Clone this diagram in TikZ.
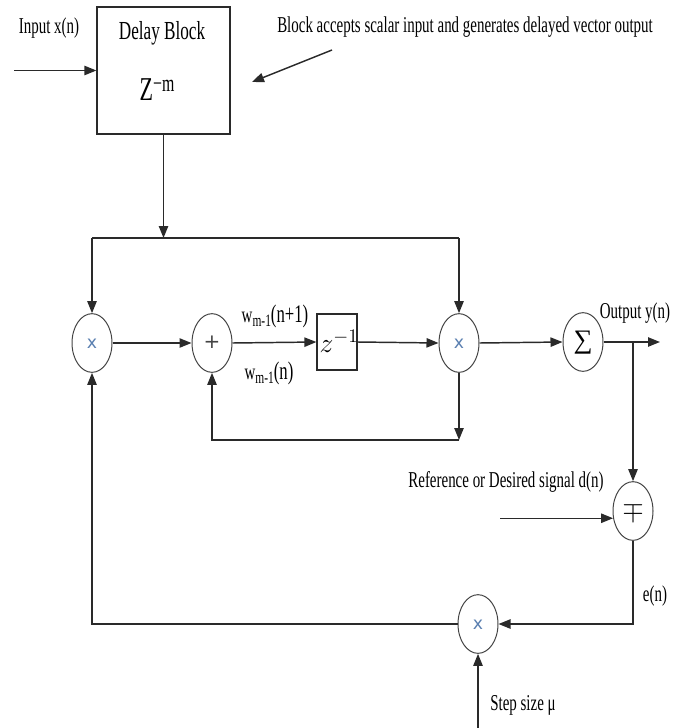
\documentclass[tikz,border=0pt]{standalone}
\usepackage{fontspec}
\setmainfont[FakeStretch=0.66]{Liberation Serif}
\newfontfamily\symfont{DejaVu Sans}
\newfontfamily\serifsym{Liberation Serif}
\usetikzlibrary{arrows.meta,shapes.geometric}
\definecolor{linec}{HTML}{2A2A2A}
\definecolor{circc}{HTML}{444444}
\definecolor{xblue}{HTML}{5A7FB0}
\tikzset{
  x=0.75pt, y=-0.75pt,
  wire/.style={draw=linec, line width=1.1pt},
  arr/.style={wire, -{Triangle[length=9pt,width=7pt]}},
  opnode/.style={ellipse, draw=circc, line width=0.75pt, minimum width=30pt, minimum height=44pt, inner sep=0pt},
  boxnode/.style={rectangle, draw=linec, line width=0.9pt, inner sep=0pt},
  lbl/.style={inner sep=0pt, font=\fontsize{17}{20}\selectfont},
}
\begin{document}
\begin{tikzpicture}
\useasboundingbox (0,0) rectangle (686,728);
% blocks
\node[boxnode, minimum width=99.75pt, minimum height=95.25pt] (delay) at (163.5,70.5) {};
\node[lbl, font=\fontsize{19.5}{22}\selectfont] (delaytxt) at (162,33) {Delay Block};
\node[lbl, font=\fontsize{25}{28}\selectfont] (zm) at (157,90) {Z\raisebox{7pt}{\fontsize{18}{20}\selectfont −m}};
\node[boxnode, minimum width=30pt, minimum height=42pt] (zbox) at (337,342) {};
\node[inner sep=0pt, font=\fontsize{20}{22}\selectfont] (zinv) at (339,341) {$z^{-1}$};
\node[opnode] (m1) at (92,343) {};
\node[inner sep=0pt, text=xblue, font=\symfont\fontsize{13}{14}\selectfont] (m1s) at (92,344) {x};
\node[opnode] (add) at (212,343) {};
\node[inner sep=0pt, text=circc, font=\symfont\fontsize{15}{16}\selectfont] (adds) at (212,342) {+};
\node[opnode] (m2) at (459,343) {};
\node[inner sep=0pt, text=xblue, font=\symfont\fontsize{13}{14}\selectfont] (m2s) at (459,344) {x};
\node[opnode] (sum) at (583,342) {};
\node[inner sep=0pt, font=\serifsym\fontsize{20}{22}\selectfont] (sums) at (583,343) {∑};
\node[opnode] (sub) at (633,511) {};
\node[inner sep=0pt, font=\fontsize{22}{24}\selectfont] (subs) at (633,512) {$\mp$};
\node[opnode] (m3) at (478,624) {};
\node[inner sep=0pt, text=xblue, font=\symfont\fontsize{13}{14}\selectfont] (m3s) at (478,625) {x};
% labels
\node[lbl] (inlbl) at (49,28) {Input x(n)};
\node[lbl, anchor=west] (annot) at (277,27) {Block accepts scalar input and generates delayed vector output};
\node[lbl] (wnp) at (275,316) {w\raisebox{-3pt}{\fontsize{13}{14}\selectfont m-1}\fontsize{19}{22}\selectfont(n+1)};
\node[lbl] (wn) at (269,373) {w\raisebox{-3pt}{\fontsize{13}{14}\selectfont m-1}\fontsize{19}{22}\selectfont(n)};
\node[lbl] (outlbl) at (635,313) {Output y(n)};
\node[lbl] (reflbl) at (506,482) {Reference or Desired signal d(n)};
\node[lbl] (enlbl) at (655,596) {e(n)};
\node[lbl] (steplbl) at (523,705) {Step size μ};
% coordinates
\coordinate (inS) at (14,70.5);
\coordinate (annS) at (332,50);
\coordinate (annE) at (252,82);
\coordinate (topjoin) at (163.5,238);
\coordinate (tl) at (92,238);
\coordinate (tr) at (459,238);
\coordinate (outE) at (660,342);
\coordinate (branch) at (633,342);
\coordinate (refS) at (500,519);
\coordinate (fb) at (459,440);
\coordinate (stepS) at (478,728);
% connectors
\draw[arr] (inS) -- (delay.west);
\draw[arr] (annS) -- (annE);
\draw[arr] (delay.south) -- (topjoin);
\draw[wire] (tl) -- (tr);
\draw[arr] (tl) -- (m1.north);
\draw[arr] (tr) -- (m2.north);
\draw[arr] (m1.east) -- (add.west);
\draw[arr] (add.east) -- (zbox.west);
\draw[arr] (zbox.east) -- (m2.west);
\draw[arr] (m2.east) -- (sum.west);
\draw[arr] (sum.east) -- (outE);
\draw[arr] (branch) -- (sub.north);
\draw[arr] (refS |- sub.200) -- (sub.200);
\draw[arr] (sub.south) |- (m3.east);
\draw[arr] (stepS) -- (m3.south);
\draw[arr] (m3.west) -| (m1.south);
\draw[arr] (m2.south) -- (fb);
\draw[arr] (fb) -| (add.south);
\end{tikzpicture}
\end{document}
